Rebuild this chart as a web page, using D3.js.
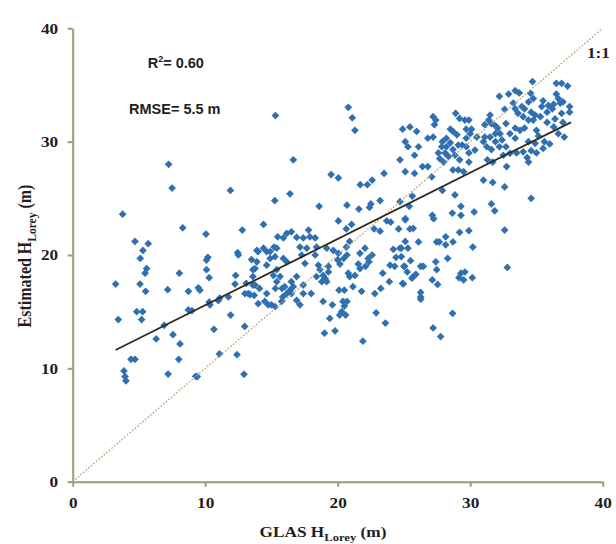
<!DOCTYPE html>
<html><head><meta charset="utf-8">
<script src="https://cdn.jsdelivr.net/npm/d3@7"></script>
<style>body{margin:0;background:#fff}</style>
</head><body><svg id="chart" width="616" height="544"></svg>
<script>
// GLAS H_Lorey (x) vs Estimated H_Lorey (y), metres
const observations = [
[3.24,17.44],[3.44,14.3],[3.77,23.6],[3.87,9.77],[3.95,9.27],[4.02,8.9],[4.4,10.8],[4.7,10.8],[4.7,21.2],[4.83,15.0],
[5.08,17.44],[5.1,19.7],[5.2,14.3],[5.28,15.0],[5.3,20.4],[5.46,18.4],[5.5,16.8],[5.58,18.8],[5.7,21.0],[6.3,12.6],
[6.9,13.8],[7.17,16.94],[7.2,9.5],[7.24,28.0],[7.5,25.9],[7.57,12.97],[8.0,10.8],[8.05,18.4],[8.1,12.15],[8.3,22.4],
[8.73,16.8],[8.73,15.15],[9.0,15.1],[9.28,9.3],[9.4,9.27],[9.48,17.1],[9.6,16.9],[10.06,21.85],[10.2,19.8],[10.1,19.55],
[10.1,18.7],[10.3,18.0],[10.36,15.6],[10.3,15.85],[10.66,13.44],[10.99,15.97],[11.1,16.2],[11.07,11.27],[11.75,16.3],[11.92,14.7],
[11.9,25.7],[12.25,17.44],[12.3,18.2],[12.4,11.2],[12.45,20.2],[12.5,20.0],[12.8,22.2],[12.93,9.47],[12.98,13.7],[13.0,16.6],
[13.1,17.5],[13.25,16.6],[13.5,19.6],[13.6,18.1],[13.7,16.44],[13.9,20.4],
[15.3,32.3],[16.65,28.4],[15.25,24.8],[16.4,25.4],
[17.28,20.0],[17.53,19.26],[17.4,17.35],[16.9,18.1],[16.5,17.65],[16.65,17.2],[16.4,16.9],[16.5,16.6],[16.0,17.2],[16.15,16.6],
[15.85,16.3],[15.8,17.05],[15.65,18.1],[15.4,17.65],[15.4,18.7],[15.15,18.2],[15.3,17.05],[14.64,16.6],[14.1,17.05],[13.76,17.35],
[14.0,15.7],[14.5,15.9],[14.76,15.6],[15.0,15.6],[15.27,15.44],[15.77,15.9],[16.9,16.0],[17.15,15.6],[17.4,16.6],[18.0,16.6],
[18.4,18.1],[18.66,18.7],[18.9,18.2],[19.3,18.5],[19.07,17.9],[18.8,17.65],[19.17,17.65],[19.3,19.0],[18.54,19.1],[15.47,21.6],
[15.9,21.5],[16.15,21.9],[16.5,22.05],[16.9,21.56],[17.4,21.5],[17.8,22.2],[17.9,21.6],[18.3,21.5],[17.15,20.7],[17.66,20.6],
[18.4,20.7],[19.17,20.6],[15.2,20.7],[15.4,20.6],[14.9,20.3],[14.64,20.3],[14.4,20.6],[14.0,20.3],[15.27,19.85],[14.9,19.7],
[15.9,19.7],[16.15,19.4],[14.64,19.1],[13.76,18.8],[13.9,19.4],[13.6,18.7],[18.3,20.0],[20.0,19.56],[20.45,19.7],[20.7,20.0],
[20.65,20.7],[20.9,21.2],[20.05,20.15],[19.67,20.4],[20.17,19.2],[21.68,20.15],[22.06,20.6],[22.3,19.7],[22.36,19.4],[21.56,19.2],
[21.68,18.8],[21.3,18.2],[22.1,19.0],[22.6,20.0],[13.4,16.5],[13.6,17.35],[20.1,16.9],[20.5,16.9],[14.4,22.7],[20.05,23.0],
[20.65,22.3],[21.05,22.7],[18.6,24.3],[21.6,24.05],[22.4,24.2],[22.75,22.3],[23.2,22.1],[23.7,23.0],[24.0,22.9],[25.1,23.1],
[24.6,22.3],[24.2,20.5],[24.7,20.6],[24.4,19.8],[24.8,19.85],[23.95,19.1],[24.3,19.0],[25.0,19.0],[23.4,18.4],[23.9,17.65],
[23.25,17.05],[22.8,16.6],[24.95,17.45],[22.9,14.9],[23.6,14.0],[21.9,12.4],[21.8,16.8],[19.8,13.3],[19.0,13.1],[19.4,14.4],
[18.9,15.9],[19.6,15.6],[20.5,15.5],[20.3,15.0],[20.6,14.7],[21.15,17.2],[20.8,18.4],[25.1,21.2],[25.3,20.6],[20.4,15.9],
[20.7,15.9],[20.15,14.7],[20.9,18.1],
[20.8,33.03],[21.1,32.1],[21.3,31.0],[19.5,27.1],[20.05,26.8],[21.7,26.2],[22.24,26.2],[22.6,26.6],[23.5,27.2],[20.7,24.4],
[22.5,24.5],[23.2,24.8],[24.7,24.7],
[25.63,25.2],[27.9,25.7],[28.85,25.3],[31.0,26.6],[31.7,26.4],[32.6,26.0],[34.6,25.0],[31.6,24.5],[31.85,23.9],[29.3,24.3],
[28.65,23.7],[29.3,23.5],[30.3,23.8],[25.4,24.3],[25.1,23.2],[27.14,23.5],[27.24,23.2],[25.45,22.3],[25.7,22.35],[26.1,21.15],
[27.47,21.15],[27.67,21.15],[28.15,21.6],[28.15,20.9],[28.7,21.15],[29.2,22.0],[29.9,22.15],[30.2,20.7],[32.6,22.2],[32.8,18.9],
[28.3,19.7],[27.4,19.4],[27.47,18.7],[25.5,19.5],[25.05,19.0],[25.25,18.5],[26.26,19.0],[26.46,19.0],[25.7,18.1],[25.9,18.3],
[25.6,17.95],[24.9,17.5],[27.14,17.8],[27.54,17.4],[29.3,18.4],[29.6,18.5],[29.15,18.0],[29.5,17.8],[30.16,18.0],[26.26,16.7],
[26.26,16.3],[26.26,16.1],[28.67,14.85],[27.2,13.56],[27.77,12.8],[24.8,20.6],
[34.7,35.3],[36.5,35.15],[36.9,35.15],[37.35,34.9],[32.2,34.0],[32.9,34.2],[33.4,34.5],[33.7,34.3],[34.56,34.26],[34.76,33.8],
[34.4,33.5],[36.5,34.2],[36.65,33.8],[35.5,33.6],[35.4,33.1],[35.9,33.2],[36.3,33.3],[36.8,33.4],[37.0,33.5],[37.5,33.1],
[37.5,32.6],[36.9,32.5],[36.2,32.9],[33.4,32.9],[33.25,33.4],[33.9,33.1],[34.1,32.9],[34.6,32.6],[34.9,32.35],[33.6,32.5],
[34.0,32.2],[34.4,31.9],[34.76,31.9],[35.3,32.2],[35.8,32.6],[35.8,31.7],[36.4,32.0],[37.0,31.7],[36.3,31.3],[36.65,30.7],
[37.1,30.4],[35.0,31.0],[35.15,30.5],[35.6,30.0],[36.0,29.8],[34.9,29.85],[34.4,30.0],[34.1,31.2],[33.76,31.0],[33.4,31.2],
[33.4,30.3],[33.0,30.7],[32.7,31.6],[32.6,32.85],[31.5,32.35],[31.4,31.9],[31.6,31.6],[31.9,31.4],[32.07,31.2],[32.25,30.7],
[31.1,31.5],[31.9,30.7],[32.4,30.15],[31.9,30.0],[31.5,30.4],[31.1,30.4],[31.0,30.0],[31.25,29.55],[31.6,29.3],[32.2,29.55],
[32.7,29.55],[33.0,28.97],[32.5,28.8],[31.3,28.4],[31.7,28.2],[32.75,27.8],[33.5,29.0],[34.0,29.1],[34.3,28.6],[34.6,29.2],
[34.4,28.2],[35.0,29.0],[35.5,29.4],[30.36,29.26],[30.5,30.4],[30.0,30.7],[29.7,31.1],[30.1,31.1],[29.7,30.3],[29.4,29.7],
[29.7,29.55],[29.9,29.0],[29.1,29.7],[28.9,32.5],[29.2,32.05],[29.6,31.9],[29.9,31.9],[28.5,31.1],[28.7,30.9],[29.0,30.6],
[28.2,30.3],[28.5,29.9],[27.9,30.0],[27.85,29.55],[28.2,29.55],[28.7,29.3],[28.85,28.8],[28.1,29.0],[28.35,28.7],[27.7,28.5],
[28.0,28.2],[29.2,28.4],[29.9,28.2],[29.1,27.5],[28.7,27.5],[29.5,27.35],[27.2,32.2],[27.4,31.9],[27.3,31.5],[27.2,30.4],
[26.8,30.3],[27.6,29.0],[25.96,30.9],[25.45,31.3],[24.9,31.1],[25.1,30.0],[25.3,29.55],[26.1,29.55],[25.8,28.8],[26.4,27.8],
[26.8,27.8],[25.8,27.2],[25.1,27.35],[27.1,26.9],[24.7,28.4]
];
const xTicks = [0, 10, 20, 30, 40];
const yTicks = [0, 10, 20, 30, 40];
const fitLine = [[3.24, 11.62], [37.6, 31.7]];
const oneToOneLine = [[0, 0], [39.9, 39.9]];
const r2Value = "0.60";
const rmseLabel = "RMSE= 5.5 m";

const svg = d3.select("#chart");
svg.append("rect").attr("width", 616).attr("height", 544).attr("fill", "#fff");

const x = d3.scaleLinear().domain([0, 40]).range([72.7, 602.7]);
const y = d3.scaleLinear().domain([0, 40]).range([481.7, 28.3]);
const axisColor = "#a09a74";
const serif = "'Liberation Serif', 'Times New Roman', serif";
const sans = "'Liberation Sans', Arial, sans-serif";
const textColor = "#1e1e1e";
const stretch = 1.15;

// points
svg.append("g").selectAll("path").data(observations).join("path")
  .attr("d", d3.symbol().type(d3.symbolSquare).size(30))
  .attr("transform", d => `translate(${x(d[0])},${y(d[1])}) rotate(45)`)
  .attr("fill", "#3070b0");

// axes
const gx = svg.append("g").attr("transform", `translate(0,${y(0)})`)
  .call(d3.axisBottom(x).tickValues(xTicks).tickSize(5).tickSizeOuter(0).tickPadding(11).tickFormat(d3.format("d")));
const gy = svg.append("g").attr("transform", `translate(${x(0)},0)`)
  .call(d3.axisLeft(y).tickValues(yTicks).tickSize(5).tickSizeOuter(0).tickPadding(9.5).tickFormat(d3.format("d")));
[gx, gy].forEach(g => {
  g.select(".domain").attr("stroke", axisColor).attr("stroke-width", 2);
  g.selectAll(".tick line").attr("stroke", axisColor).attr("stroke-width", 2);
  g.selectAll(".tick text")
    .attr("font-family", serif).attr("font-weight", "bold").attr("font-size", 15).attr("fill", textColor);
});
gx.selectAll(".tick text").each(function () {
  const t = d3.select(this); const ty = +t.attr("y");
  t.attr("transform", `translate(0,${ty}) scale(${stretch},1)`).attr("y", 0);
});
gy.selectAll(".tick text").each(function () {
  const t = d3.select(this); const tx = +t.attr("x");
  t.attr("transform", `translate(${tx},0) scale(${stretch},1)`).attr("x", 0);
});

// lines
const line = d3.line().x(d => x(d[0])).y(d => y(d[1]));
svg.append("path").datum(oneToOneLine).attr("d", line)
  .attr("stroke", "#b3a77c").attr("stroke-width", 1.4).attr("stroke-dasharray", "1.6,1.8").attr("fill", "none");
svg.append("path").datum(fitLine).attr("d", line)
  .attr("stroke", "#2d2a1c").attr("stroke-width", 1.8).attr("fill", "none");

// 1:1 label
svg.append("text").attr("transform", `translate(587,58) scale(${stretch},1)`)
  .attr("font-family", serif).attr("font-weight", "bold").attr("font-size", 15).attr("fill", textColor).text("1:1");

// R2 and RMSE
const r2 = svg.append("text").attr("x", 147.7).attr("y", 68)
  .attr("font-family", sans).attr("font-weight", "bold").attr("font-size", 14.5).attr("fill", textColor);
r2.append("tspan").text("R");
r2.append("tspan").attr("font-size", 9).attr("dy", -6).text("2");
r2.append("tspan").attr("dy", 6).text("= " + r2Value);
svg.append("text").attr("x", 129).attr("y", 113.5)
  .attr("font-family", sans).attr("font-weight", "bold").attr("font-size", 14.5).attr("fill", textColor).text(rmseLabel);

// axis titles
const xt = svg.append("text").attr("transform", `translate(323,537) scale(${stretch},1)`)
  .attr("text-anchor", "middle").attr("font-family", serif).attr("font-weight", "bold").attr("font-size", 15).attr("fill", textColor);
xt.append("tspan").text("GLAS H");
xt.append("tspan").attr("font-size", 11).attr("dy", 4).text("Lorey");
xt.append("tspan").attr("dy", -4).text(" (m)");

const yt = svg.append("text").attr("transform", `translate(31,256) scale(${stretch},1) rotate(-90)`)
  .attr("text-anchor", "middle").attr("font-family", serif).attr("font-weight", "bold").attr("font-size", 16).attr("fill", textColor);
yt.append("tspan").text("Estimated H");
yt.append("tspan").attr("font-size", 11.5).attr("dy", 4).text("Lorey");
yt.append("tspan").attr("dy", -4).text(" (m)");
</script>
</body></html>
